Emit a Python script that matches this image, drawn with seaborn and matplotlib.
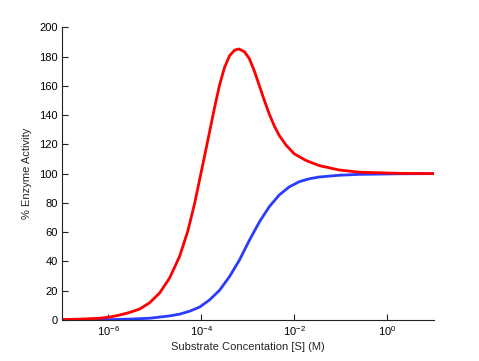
import numpy as np
import pandas as pd
import matplotlib
matplotlib.use("Agg")
import matplotlib.pyplot as plt
import seaborn as sns

# =====================================================
# Data (log10 of [S] in M)
# =====================================================

blue_log_s = [-7.0, -6.185, -5.541, -5.112, -4.682, -4.468, -4.253, -4.039,
              -3.824, -3.609, -3.395, -3.18, -2.966, -2.751, -2.536, -2.322,
              -2.107, -1.893, -1.678, -1.464, -1.034, -0.605, 0.253, 1.0]
blue_activity = [0.0, 0.1, 0.6, 1.2, 2.8, 4.0, 6.0, 8.8,
                 13.7, 20.3, 29.6, 41.0, 54.5, 67.0, 77.5, 85.5,
                 91.0, 94.5, 96.5, 97.7, 98.9, 99.5, 99.9, 100.0]

red_log_s = [-7.0, -6.614, -6.185, -5.970, -5.755, -5.541, -5.326, -5.112,
             -4.897, -4.682, -4.468, -4.290, -4.146, -4.039, -3.931, -3.824,
             -3.717, -3.609, -3.502, -3.395, -3.288, -3.195, -3.073, -2.966,
             -2.858, -2.751, -2.644, -2.536, -2.429, -2.322, -2.178, -2.000,
             -1.749, -1.464, -1.034, -0.605, 0.253, 1.0]
red_activity = [0.3, 0.6, 1.2, 2.0, 3.4, 5.2, 7.5, 11.8,
                18.5, 28.8, 43.5, 61.0, 79.5, 95.7, 112.0, 128.5,
                145.0, 160.5, 172.5, 180.5, 184.3, 185.2, 183.3, 178.5,
                170.0, 160.0, 150.0, 140.5, 132.5, 126.0, 119.5, 113.5,
                109.0, 105.5, 102.5, 101.0, 100.2, 100.0]

x_ticks = [1e-6, 1e-4, 1e-2, 1e0]

blue_df = pd.DataFrame({"S": 10.0 ** np.array(blue_log_s), "activity": blue_activity})
red_df = pd.DataFrame({"S": 10.0 ** np.array(red_log_s), "activity": red_activity})

# =====================================================
# Plot
# =====================================================

sns.set_style("ticks")
plt.rcParams["font.family"] = ["Liberation Sans", "DejaVu Sans"]
plt.rcParams["mathtext.fontset"] = "custom"
plt.rcParams["mathtext.rm"] = "Liberation Sans"
plt.rcParams["mathtext.it"] = "Liberation Sans:italic"

fig = plt.figure(figsize=(4.79, 3.61), dpi=100)
ax = fig.add_axes([0.1294, 0.1136, 0.776, 0.8108])

sns.lineplot(data=blue_df, x="S", y="activity", color="#2a3cff", linewidth=2.0, ax=ax)
sns.lineplot(data=red_df, x="S", y="activity", color="#ff0000", linewidth=2.0, ax=ax)

ax.set_xscale("log")
ax.set_xlim(1e-7, 1e1)
ax.set_ylim(0, 200)
ax.set_xticks(x_ticks)
ax.xaxis.set_minor_locator(matplotlib.ticker.NullLocator())
ax.set_yticks(range(0, 201, 20))

ax.tick_params(direction="in", length=4, width=0.8, labelsize=8, colors="#222222",
               labelcolor="black", pad=3)
for side in ["left", "bottom"]:
    ax.spines[side].set_linewidth(0.8)
    ax.spines[side].set_color("#222222")
sns.despine(ax=ax)

ax.set_xlabel("Substrate Concentation [S] (M)", fontsize=8, labelpad=3)
ax.set_ylabel("% Enzyme Activity", fontsize=8, labelpad=5)

fig.savefig("out.png", dpi=100)
